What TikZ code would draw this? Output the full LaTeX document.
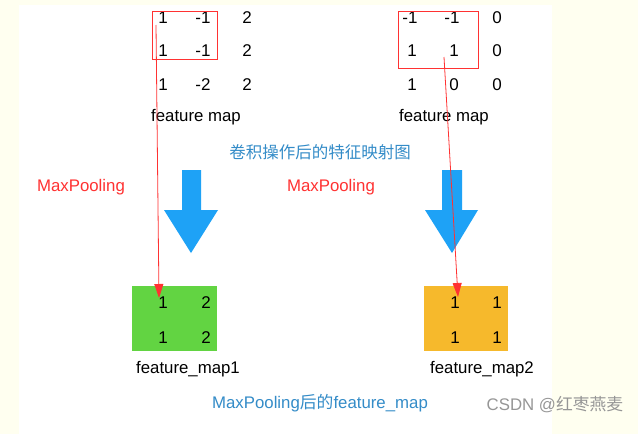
\documentclass[tikz,border=0pt]{standalone}
\usepackage{fontspec}
\setmainfont{Liberation Sans}
\newfontfamily\cjk{Noto Sans CJK SC}
\usetikzlibrary{arrows.meta}
\definecolor{cream}{RGB}{255,255,240}
\definecolor{pinred}{RGB}{255,50,50}
\definecolor{titleblue}{RGB}{52,140,200}
\definecolor{arrowblue}{RGB}{30,162,246}
\definecolor{mapgreen}{RGB}{98,212,66}
\definecolor{maporange}{RGB}{246,185,44}
\definecolor{markgray}{RGB}{150,150,150}
\tikzset{
  num/.style={font=\fontsize{17}{20}\selectfont, inner sep=0pt, anchor=center},
  lbl/.style={font=\fontsize{16.8}{20}\selectfont, inner sep=0pt, anchor=center},
  redlbl/.style={lbl, text=pinred},
  bluelbl/.style={lbl, text=titleblue},
  selbox/.style={draw=pinred, line width=0.9pt},
  pick/.style={draw=pinred, line width=0.8pt, -{Triangle[length=14pt,width=9pt]}},
  bigarrow/.style={fill=arrowblue, draw=none},
}
\begin{document}
\begin{tikzpicture}[x=1pt,y=-1pt]
\useasboundingbox (0,0) rectangle (638,434);
\fill[cream] (0,0) rectangle (638,434);
\fill[white] (19,5) rectangle (552,434);

% left feature map
\node[num] (a11) at (163,18) {1};
\node[num] (a12) at (203,18) {-1};
\node[num] (a13) at (247,18) {2};
\node[num] (a21) at (163,51) {1};
\node[num] (a22) at (203,51) {-1};
\node[num] (a23) at (247,51) {2};
\node[num] (a31) at (163,85) {1};
\node[num] (a32) at (203,85) {-2};
\node[num] (a33) at (247,85) {2};
\node[lbl] (fm1) at (196,117) {feature map};
\draw[selbox] (152,11) rectangle (217,59);

% right feature map
\node[num] (b11) at (410,18) {-1};
\node[num] (b12) at (452,18) {-1};
\node[num] (b13) at (497,18) {0};
\node[num] (b21) at (412,51) {1};
\node[num] (b22) at (454,51) {1};
\node[num] (b23) at (497,51) {0};
\node[num] (b31) at (412,85) {1};
\node[num] (b32) at (454,85) {0};
\node[num] (b33) at (497,85) {0};
\node[lbl] (fm2) at (444,117) {feature map};
\draw[selbox] (398,11) rectangle (478,68);

% titles
\node[bluelbl, font=\cjk\fontsize{16.5}{19}\selectfont] (t1) at (320,152) {卷积操作后的特征映射图};
\node[redlbl] (mp1) at (81,187) {MaxPooling};
\node[redlbl] (mp2) at (331,187) {MaxPooling};

% big blue arrows
\fill[bigarrow] (182,170) -- (201,170) -- (201,210) -- (218,210) -- (191,253) -- (164,210) -- (182,210) -- cycle;
\fill[bigarrow] (442,170) -- (462,170) -- (462,210) -- (478,210) -- (452,253) -- (425,210) -- (442,210) -- cycle;

% pooled maps
\fill[mapgreen] (132,286) rectangle (217,351);
\node[num] (c11) at (163,303) {1};
\node[num] (c12) at (206,303) {2};
\node[num] (c21) at (163,338) {1};
\node[num] (c22) at (206,338) {2};
\node[lbl] (pm1) at (188,369) {feature\_map1};

\fill[maporange] (424,286) rectangle (508,351);
\node[num] (d11) at (455,303) {1};
\node[num] (d12) at (497,303) {1};
\node[num] (d21) at (455,338) {1};
\node[num] (d22) at (497,338) {1};
\node[lbl] (pm2) at (482,369) {feature\_map2};

\node[bluelbl] (t2) at (320,403) {MaxPooling{\cjk 后的}feature\_map};
\node[lbl, text=markgray] (wm) at (555,405) {CSDN @{\cjk 红枣燕麦}};

% red pointers
\coordinate (s1) at (156,25);
\coordinate (e1) at (159,298);
\coordinate (s2) at (444,57);
\coordinate (e2) at (458,297);
\draw[pick] (s1) -- (e1);
\draw[pick] (s2) -- (e2);
\end{tikzpicture}
\end{document}
